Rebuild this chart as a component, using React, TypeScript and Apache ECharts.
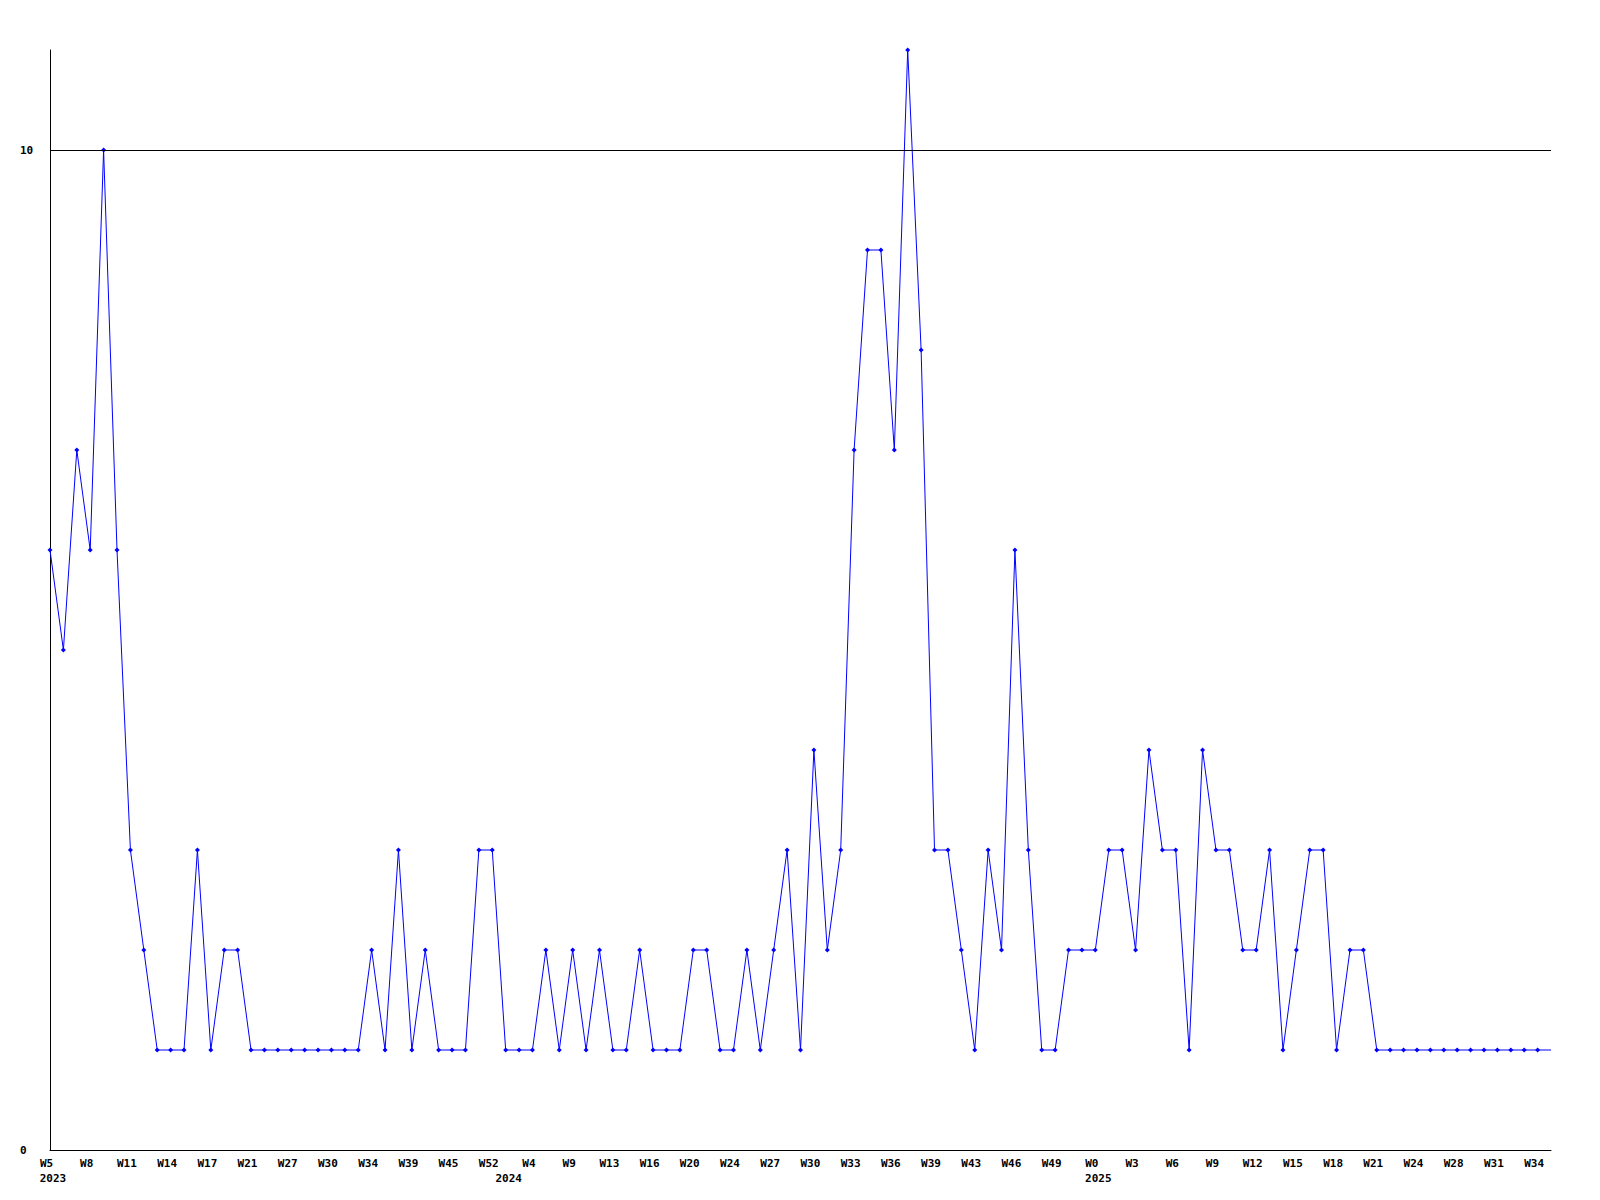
import React, { useEffect, useRef } from "react";
import * as echarts from "echarts";

// Week labels for each data point (only every third one is displayed)
const weeks: string[] = [
  "W5", "W6", "W7", "W8", "W9", "W10", "W11", "W12", "W13", "W14",
  "W15", "W16", "W17", "W18", "W19", "W21", "W23", "W25", "W27", "W28",
  "W29", "W30", "W31", "W33", "W34", "W36", "W37", "W39", "W41", "W43",
  "W45", "W48", "W50", "W52", "W1", "W2", "W4", "W6", "W7", "W9",
  "W10", "W12", "W13", "W14", "W15", "W16", "W17", "W18", "W20", "W21",
  "W22", "W24", "W25", "W26", "W27", "W28", "W29", "W30", "W31", "W32",
  "W33", "W34", "W35", "W36", "W37", "W38", "W39", "W40", "W41", "W43",
  "W44", "W45", "W46", "W47", "W48", "W49", "W50", "W51", "W0", "W1",
  "W2", "W3", "W4", "W5", "W6", "W7", "W8", "W9", "W10", "W11",
  "W12", "W13", "W14", "W15", "W16", "W17", "W18", "W19", "W20", "W21",
  "W22", "W23", "W24", "W25", "W26", "W28", "W29", "W30", "W31", "W32",
  "W33", "W34", "W35",
];

// Values per week
const counts: number[] = [
  6, 5, 7, 6, 10, 6, 3, 2, 1, 1,
  1, 3, 1, 2, 2, 1, 1, 1, 1, 1,
  1, 1, 1, 1, 2, 1, 3, 1, 2, 1,
  1, 1, 3, 3, 1, 1, 1, 2, 1, 2,
  1, 2, 1, 1, 2, 1, 1, 1, 2, 2,
  1, 1, 2, 1, 2, 3, 1, 4, 2, 3,
  7, 9, 9, 7, 11, 8, 3, 3, 2, 1,
  3, 2, 6, 3, 1, 1, 2, 2, 2, 3,
  3, 2, 4, 3, 3, 1, 4, 3, 3, 2,
  2, 3, 1, 2, 3, 3, 1, 2, 2, 1,
  1, 1, 1, 1, 1, 1, 1, 1, 1, 1,
  1, 1, 1,
];

// Year labels and the index of the first point of each year
const yearNames: string[] = ["2023", "2024", "2025"];
const yearStartIndex: number[] = [0, 34, 78];

const yTickInterval = 10;
const yMax = 11;
const labelEvery = 3;

export default function App() {
  const ref = useRef<HTMLDivElement>(null);

  useEffect(() => {
    if (!ref.current) return;
    const chart = echarts.init(ref.current, undefined, { renderer: "svg" });

    const yearAxisData = weeks.map((_, i) => {
      const k = yearStartIndex.indexOf(i);
      return k >= 0 ? yearNames[k] : "";
    });

    const seriesData = counts.map((v, i) =>
      i === counts.length - 1 ? { value: v, symbol: "none" } : v
    );

    const labelFont = {
      fontFamily: "DejaVu Sans Mono",
      fontWeight: "bold" as const,
      fontSize: 11,
      color: "#000",
    };

    chart.setOption({
      animation: false,
      backgroundColor: "#fff",
      grid: { left: 50, right: 49, top: 50, bottom: 50, containLabel: false },
      xAxis: [
        {
          type: "category",
          data: weeks,
          boundaryGap: false,
          axisLine: { show: true, lineStyle: { color: "#000", width: 1 } },
          axisTick: { show: false },
          splitLine: { show: false },
          axisLabel: {
            ...labelFont,
            margin: 8,
            padding: [0, 7, 0, 0],
            interval: (index: number) => index % labelEvery === 0,
          },
        },
        {
          type: "category",
          position: "bottom",
          data: yearAxisData,
          boundaryGap: false,
          axisLine: { show: false },
          axisTick: { show: false },
          splitLine: { show: false },
          axisLabel: {
            ...labelFont,
            margin: 23,
            padding: [0, 0, 0, 6],
            interval: 0,
          },
        },
      ],
      yAxis: {
        type: "value",
        min: 0,
        max: yMax,
        interval: yTickInterval,
        axisLine: { show: true, lineStyle: { color: "#000", width: 1 } },
        axisTick: { show: false },
        splitLine: { show: false },
        axisLabel: {
          ...labelFont,
          align: "left",
          margin: 30,
          showMaxLabel: false,
        },
      },
      series: [
        {
          type: "line",
          data: seriesData,
          xAxisIndex: 0,
          symbol: "diamond",
          symbolSize: 5,
          showAllSymbol: true,
          lineStyle: { color: "#0000ff", width: 1 },
          itemStyle: { color: "#0000ff" },
          markLine: {
            silent: true,
            symbol: "none",
            label: { show: false },
            lineStyle: { color: "#000", width: 1, type: "solid" },
            data: [{ yAxis: yTickInterval }],
          },
          z: 3,
        },
      ],
    });

    return () => chart.dispose();
  }, []);

  return (
    <div
      ref={ref}
      style={{ position: "absolute", left: 0, top: 0, width: 1600, height: 1200 }}
    />
  );
}
